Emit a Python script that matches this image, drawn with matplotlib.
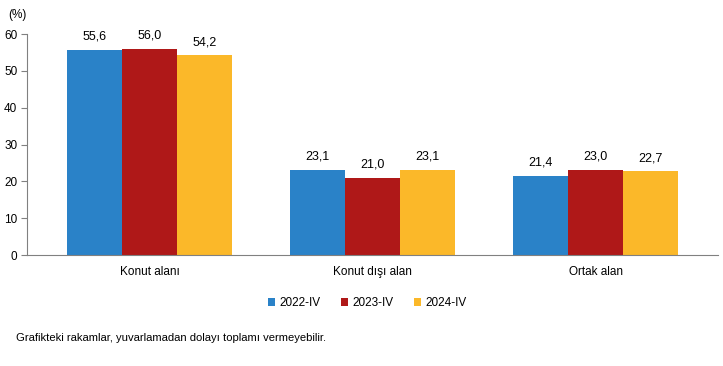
import matplotlib
matplotlib.use("Agg")
import matplotlib.pyplot as plt
import numpy as np

plt.rcParams["font.family"] = ["Liberation Sans", "DejaVu Sans"]

categories = ["Konut alanı", "Konut dışı alan", "Ortak alan"]
series = ["2022-IV", "2023-IV", "2024-IV"]
values = {
    "2022-IV": [55.6, 23.1, 21.4],
    "2023-IV": [56.0, 21.0, 23.0],
    "2024-IV": [54.2, 23.1, 22.7],
}
colors = ["#2A82C8", "#AF1818", "#FBB829"]

fig = plt.figure(figsize=(7.23, 3.66), dpi=100)
ax = fig.add_axes([0.0373, 0.303, 0.956, 0.604])

x = np.arange(len(categories))
w = 0.247
for i, (s, c) in enumerate(zip(series, colors)):
    pos = x + (i - 1) * w
    bars = ax.bar(pos, values[s], width=w, color=c, label=s, zorder=2)
    for b, v in zip(bars, values[s]):
        ax.text(b.get_x() + b.get_width() / 2, v + 2.0, f"{v:.1f}".replace(".", ","),
                ha="center", va="bottom", fontsize=9)

ax.set_xlim(-0.549, 2.549)
ax.set_ylim(0, 60)
ax.set_yticks(range(0, 61, 10))
ax.set_xticks(x)
ax.set_xticklabels(categories, fontsize=8.5)
ax.tick_params(axis="x", length=0, pad=8)
ax.tick_params(axis="y", labelsize=8.5, length=4, color="#808080", pad=3)
for side in ["top", "right"]:
    ax.spines[side].set_visible(False)
for side in ["left", "bottom"]:
    ax.spines[side].set_color("#808080")

fig.text(0.011, 0.958, "(%)", fontsize=8.5, ha="left", va="center")

fig.legend(loc="center", bbox_to_anchor=(0.508, 0.172), ncol=3, frameon=False,
           fontsize=8.5, handlelength=0.6, handleheight=0.6, handletextpad=0.3,
           columnspacing=1.8)

fig.text(0.022, 0.077, "Grafikteki rakamlar, yuvarlamadan dolayı toplamı vermeyebilir.",
         fontsize=8.1, ha="left", va="center")

fig.savefig("out.png", dpi=100)
